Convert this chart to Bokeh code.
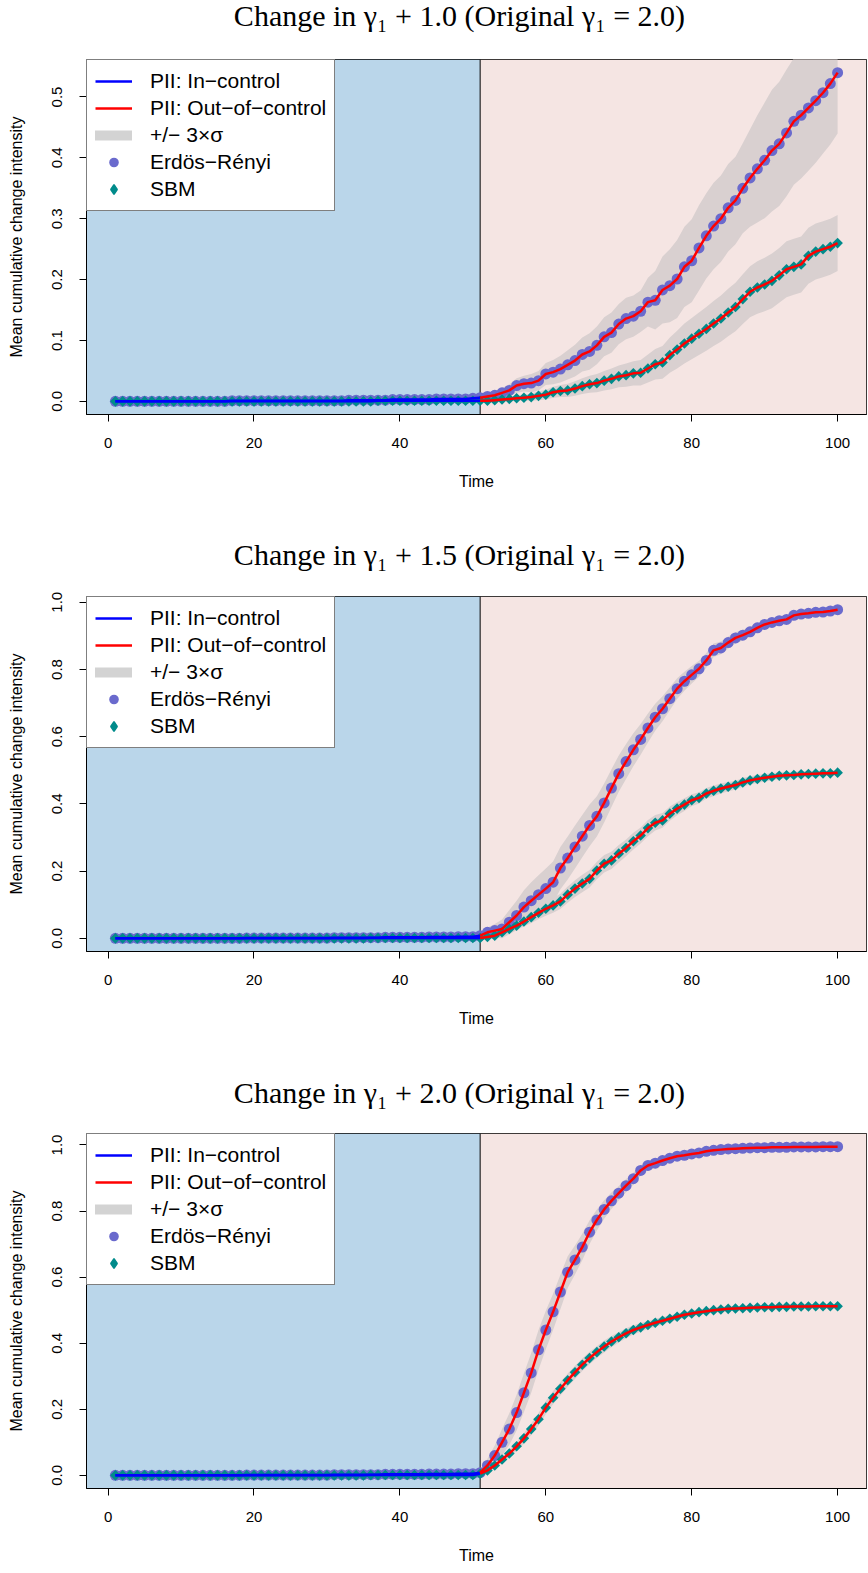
import numpy as np
from bokeh.plotting import figure
from bokeh.models import (Range1d, BoxAnnotation, Span, FixedTicker, Legend,
                          LegendItem, Label)
from bokeh.layouts import column
from bokeh.embed import file_html
from bokeh.resources import INLINE

# ---------------- data ----------------
time = list(range(1, 101))
change_point = 51

titles = [
    "Change in \u03b3\u2081 + 1.0 (Original \u03b3\u2081 = 2.0)",
    "Change in \u03b3\u2081 + 1.5 (Original \u03b3\u2081 = 2.0)",
    "Change in \u03b3\u2081 + 2.0 (Original \u03b3\u2081 = 2.0)",
]
y_ticks_1 = [0.0, 0.1, 0.2, 0.3, 0.4, 0.5]
y_ticks_2 = [0.0, 0.2, 0.4, 0.6, 0.8, 1.0]
y_ticks_3 = [0.0, 0.2, 0.4, 0.6, 0.8, 1.0]
x_ticks = [0, 20, 40, 60, 80, 100]

# Panel 1 : gamma1 + 1.0
er_1 = [0.000, 0.000, 0.000, 0.000, 0.000, 0.000, 0.000, 0.000, 0.000, 0.000,
        0.000, 0.000, 0.000, 0.000, 0.000, 0.000, 0.001, 0.001, 0.001, 0.001,
        0.001, 0.001, 0.001, 0.001, 0.001, 0.001, 0.001, 0.001, 0.001, 0.001,
        0.001, 0.001, 0.002, 0.002, 0.002, 0.002, 0.002, 0.002, 0.003, 0.003,
        0.003, 0.003, 0.003, 0.003, 0.004, 0.004, 0.004, 0.004, 0.004, 0.005,
        0.006, 0.008, 0.010, 0.014, 0.018, 0.026, 0.029, 0.030, 0.034, 0.045,
        0.048, 0.053, 0.060, 0.067, 0.077, 0.082, 0.092, 0.106, 0.113, 0.127,
        0.136, 0.140, 0.148, 0.163, 0.166, 0.183, 0.190, 0.201, 0.221, 0.231,
        0.252, 0.272, 0.288, 0.300, 0.318, 0.330, 0.350, 0.367, 0.382, 0.396,
        0.412, 0.423, 0.441, 0.460, 0.470, 0.482, 0.494, 0.507, 0.522, 0.540]
er_band_1 = [0.000, 0.000, 0.000, 0.000, 0.000, 0.001, 0.001, 0.001, 0.001, 0.001,
             0.001, 0.001, 0.001, 0.001, 0.001, 0.001, 0.001, 0.001, 0.001, 0.001,
             0.001, 0.001, 0.001, 0.001, 0.001, 0.002, 0.002, 0.002, 0.002, 0.002,
             0.002, 0.002, 0.002, 0.002, 0.003, 0.003, 0.003, 0.003, 0.003, 0.003,
             0.003, 0.003, 0.004, 0.004, 0.004, 0.004, 0.004, 0.004, 0.005, 0.005,
             0.005, 0.006, 0.007, 0.008, 0.010, 0.012, 0.013, 0.015, 0.016, 0.018,
             0.020, 0.022, 0.024, 0.026, 0.028, 0.030, 0.031, 0.032, 0.033, 0.033,
             0.034, 0.034, 0.034, 0.040, 0.048, 0.055, 0.060, 0.064, 0.066, 0.068,
             0.070, 0.070, 0.071, 0.071, 0.072, 0.072, 0.074, 0.080, 0.088, 0.095,
             0.100, 0.102, 0.104, 0.104, 0.104, 0.103, 0.102, 0.100, 0.100, 0.100]
sbm_1 = [0.000, 0.000, 0.000, 0.000, 0.000, 0.000, 0.000, 0.000, 0.000, 0.000,
         0.000, 0.000, 0.000, 0.000, 0.000, 0.000, 0.000, 0.000, 0.000, 0.000,
         0.000, 0.000, 0.000, 0.000, 0.000, 0.000, 0.000, 0.000, 0.000, 0.000,
         0.000, 0.000, 0.000, 0.000, 0.000, 0.000, 0.001, 0.001, 0.001, 0.001,
         0.001, 0.001, 0.001, 0.001, 0.001, 0.001, 0.001, 0.001, 0.001, 0.001,
         0.001, 0.001, 0.002, 0.003, 0.004, 0.005, 0.006, 0.007, 0.009, 0.011,
         0.015, 0.017, 0.018, 0.021, 0.025, 0.028, 0.030, 0.034, 0.037, 0.041,
         0.043, 0.046, 0.047, 0.054, 0.061, 0.064, 0.076, 0.085, 0.095, 0.103,
         0.111, 0.119, 0.128, 0.136, 0.146, 0.155, 0.168, 0.180, 0.187, 0.192,
         0.198, 0.207, 0.217, 0.221, 0.225, 0.239, 0.246, 0.250, 0.254, 0.260]
sbm_band_1 = [0.000, 0.000, 0.000, 0.000, 0.000, 0.000, 0.000, 0.000, 0.000, 0.000,
              0.000, 0.000, 0.000, 0.000, 0.000, 0.000, 0.000, 0.000, 0.000, 0.000,
              0.001, 0.001, 0.001, 0.001, 0.001, 0.001, 0.001, 0.001, 0.001, 0.001,
              0.001, 0.001, 0.001, 0.001, 0.001, 0.001, 0.001, 0.001, 0.001, 0.001,
              0.001, 0.001, 0.001, 0.001, 0.002, 0.002, 0.002, 0.002, 0.002, 0.002,
              0.002, 0.002, 0.003, 0.003, 0.004, 0.004, 0.005, 0.006, 0.007, 0.008,
              0.009, 0.010, 0.011, 0.012, 0.013, 0.014, 0.015, 0.016, 0.017, 0.018,
              0.019, 0.020, 0.021, 0.023, 0.025, 0.027, 0.029, 0.031, 0.033, 0.034,
              0.035, 0.036, 0.037, 0.038, 0.039, 0.040, 0.041, 0.042, 0.043, 0.044,
              0.045, 0.045, 0.046, 0.046, 0.046, 0.046, 0.046, 0.046, 0.046, 0.046]

# Panel 2 : gamma1 + 1.5
er_2 = [0.000, 0.000, 0.000, 0.000, 0.000, 0.000, 0.000, 0.000, 0.000, 0.000,
        0.000, 0.000, 0.000, 0.000, 0.000, 0.000, 0.000, 0.000, 0.001, 0.001,
        0.001, 0.001, 0.001, 0.001, 0.001, 0.001, 0.001, 0.001, 0.001, 0.001,
        0.002, 0.002, 0.002, 0.002, 0.002, 0.002, 0.002, 0.003, 0.003, 0.003,
        0.003, 0.003, 0.003, 0.004, 0.004, 0.004, 0.004, 0.005, 0.005, 0.005,
        0.008, 0.018, 0.023, 0.028, 0.048, 0.068, 0.093, 0.112, 0.130, 0.148,
        0.167, 0.209, 0.239, 0.272, 0.304, 0.336, 0.363, 0.403, 0.447, 0.490,
        0.526, 0.561, 0.592, 0.626, 0.658, 0.683, 0.713, 0.743, 0.765, 0.784,
        0.802, 0.827, 0.857, 0.864, 0.880, 0.894, 0.902, 0.912, 0.924, 0.934,
        0.940, 0.945, 0.949, 0.961, 0.965, 0.967, 0.970, 0.971, 0.974, 0.978]
er_band_2 = [0.000, 0.000, 0.000, 0.000, 0.000, 0.001, 0.001, 0.001, 0.001, 0.001,
             0.001, 0.001, 0.001, 0.001, 0.001, 0.001, 0.001, 0.001, 0.001, 0.001,
             0.001, 0.001, 0.002, 0.002, 0.002, 0.002, 0.002, 0.002, 0.002, 0.002,
             0.002, 0.002, 0.002, 0.003, 0.003, 0.003, 0.003, 0.003, 0.003, 0.003,
             0.004, 0.004, 0.004, 0.004, 0.004, 0.004, 0.005, 0.005, 0.005, 0.005,
             0.008, 0.014, 0.020, 0.028, 0.036, 0.044, 0.050, 0.055, 0.058, 0.060,
             0.062, 0.063, 0.064, 0.064, 0.063, 0.062, 0.060, 0.058, 0.056, 0.054,
             0.052, 0.049, 0.046, 0.043, 0.040, 0.037, 0.034, 0.031, 0.028, 0.026,
             0.024, 0.022, 0.020, 0.019, 0.018, 0.017, 0.016, 0.015, 0.014, 0.013,
             0.012, 0.012, 0.011, 0.011, 0.010, 0.010, 0.010, 0.010, 0.009, 0.009]
sbm_2 = [0.000, 0.000, 0.000, 0.000, 0.000, 0.000, 0.000, 0.000, 0.000, 0.000,
         0.000, 0.000, 0.000, 0.000, 0.000, 0.000, 0.000, 0.000, 0.000, 0.000,
         0.000, 0.000, 0.000, 0.000, 0.000, 0.000, 0.000, 0.000, 0.000, 0.000,
         0.000, 0.000, 0.000, 0.000, 0.000, 0.001, 0.001, 0.001, 0.001, 0.001,
         0.001, 0.001, 0.001, 0.001, 0.001, 0.001, 0.001, 0.001, 0.001, 0.001,
         0.001, 0.004, 0.008, 0.018, 0.028, 0.038, 0.050, 0.063, 0.076, 0.088,
         0.098, 0.110, 0.130, 0.148, 0.163, 0.177, 0.202, 0.222, 0.232, 0.252,
         0.269, 0.289, 0.306, 0.328, 0.344, 0.351, 0.371, 0.386, 0.398, 0.411,
         0.418, 0.431, 0.439, 0.446, 0.451, 0.456, 0.464, 0.470, 0.474, 0.478,
         0.481, 0.484, 0.485, 0.486, 0.488, 0.489, 0.490, 0.491, 0.491, 0.493]
sbm_band_2 = [0.000, 0.000, 0.000, 0.000, 0.000, 0.000, 0.000, 0.000, 0.000, 0.000,
              0.000, 0.000, 0.000, 0.000, 0.000, 0.000, 0.000, 0.000, 0.000, 0.000,
              0.001, 0.001, 0.001, 0.001, 0.001, 0.001, 0.001, 0.001, 0.001, 0.001,
              0.001, 0.001, 0.001, 0.001, 0.001, 0.001, 0.001, 0.001, 0.001, 0.001,
              0.001, 0.001, 0.001, 0.001, 0.002, 0.002, 0.002, 0.002, 0.002, 0.002,
              0.003, 0.005, 0.007, 0.009, 0.011, 0.013, 0.015, 0.017, 0.019, 0.021,
              0.022, 0.023, 0.024, 0.025, 0.026, 0.026, 0.026, 0.026, 0.026, 0.026,
              0.025, 0.025, 0.024, 0.024, 0.023, 0.022, 0.021, 0.020, 0.019, 0.018,
              0.017, 0.016, 0.016, 0.015, 0.014, 0.013, 0.013, 0.012, 0.012, 0.011,
              0.011, 0.010, 0.010, 0.010, 0.009, 0.009, 0.009, 0.008, 0.008, 0.008]

# Panel 3 : gamma1 + 2.0
er_3 = [0.000, 0.000, 0.000, 0.000, 0.000, 0.000, 0.000, 0.000, 0.000, 0.000,
        0.000, 0.000, 0.000, 0.000, 0.000, 0.000, 0.000, 0.000, 0.001, 0.001,
        0.001, 0.001, 0.001, 0.001, 0.001, 0.001, 0.001, 0.001, 0.001, 0.001,
        0.002, 0.002, 0.002, 0.002, 0.002, 0.002, 0.002, 0.003, 0.003, 0.003,
        0.003, 0.003, 0.003, 0.004, 0.004, 0.004, 0.004, 0.005, 0.005, 0.005,
        0.008, 0.030, 0.060, 0.100, 0.140, 0.190, 0.250, 0.310, 0.380, 0.440,
        0.495, 0.555, 0.615, 0.652, 0.691, 0.736, 0.773, 0.805, 0.831, 0.854,
        0.877, 0.898, 0.923, 0.938, 0.945, 0.953, 0.960, 0.966, 0.969, 0.973,
        0.976, 0.981, 0.984, 0.986, 0.988, 0.989, 0.990, 0.991, 0.992, 0.992,
        0.993, 0.993, 0.993, 0.994, 0.994, 0.994, 0.994, 0.995, 0.995, 0.995]
er_band_3 = [0.000, 0.000, 0.000, 0.000, 0.000, 0.001, 0.001, 0.001, 0.001, 0.001,
             0.001, 0.001, 0.001, 0.001, 0.001, 0.001, 0.001, 0.001, 0.001, 0.001,
             0.001, 0.001, 0.002, 0.002, 0.002, 0.002, 0.002, 0.002, 0.002, 0.002,
             0.002, 0.002, 0.002, 0.003, 0.003, 0.003, 0.003, 0.003, 0.003, 0.003,
             0.004, 0.004, 0.004, 0.004, 0.004, 0.004, 0.005, 0.005, 0.005, 0.005,
             0.010, 0.020, 0.030, 0.040, 0.048, 0.054, 0.058, 0.060, 0.060, 0.058,
             0.055, 0.052, 0.048, 0.044, 0.040, 0.036, 0.032, 0.028, 0.025, 0.022,
             0.020, 0.018, 0.016, 0.015, 0.014, 0.013, 0.012, 0.011, 0.010, 0.009,
             0.008, 0.008, 0.008, 0.008, 0.007, 0.007, 0.007, 0.007, 0.007, 0.007,
             0.006, 0.006, 0.006, 0.006, 0.006, 0.006, 0.006, 0.006, 0.006, 0.006]
sbm_3 = [0.000, 0.000, 0.000, 0.000, 0.000, 0.000, 0.000, 0.000, 0.000, 0.000,
         0.000, 0.000, 0.000, 0.000, 0.000, 0.000, 0.000, 0.000, 0.000, 0.000,
         0.000, 0.000, 0.000, 0.000, 0.000, 0.000, 0.000, 0.000, 0.000, 0.000,
         0.000, 0.000, 0.000, 0.000, 0.000, 0.001, 0.001, 0.001, 0.001, 0.001,
         0.001, 0.001, 0.001, 0.001, 0.001, 0.001, 0.001, 0.001, 0.001, 0.001,
         0.005, 0.015, 0.030, 0.048, 0.066, 0.088, 0.112, 0.140, 0.170, 0.205,
         0.235, 0.262, 0.288, 0.312, 0.335, 0.355, 0.373, 0.390, 0.405, 0.418,
         0.430, 0.440, 0.448, 0.455, 0.462, 0.468, 0.474, 0.480, 0.486, 0.490,
         0.494, 0.497, 0.500, 0.502, 0.504, 0.505, 0.506, 0.507, 0.508, 0.509,
         0.509, 0.510, 0.510, 0.511, 0.511, 0.511, 0.512, 0.512, 0.512, 0.512]
sbm_band_3 = [0.000, 0.000, 0.000, 0.000, 0.000, 0.000, 0.000, 0.000, 0.000, 0.000,
              0.000, 0.000, 0.000, 0.000, 0.000, 0.000, 0.000, 0.000, 0.000, 0.000,
              0.001, 0.001, 0.001, 0.001, 0.001, 0.001, 0.001, 0.001, 0.001, 0.001,
              0.001, 0.001, 0.001, 0.001, 0.001, 0.001, 0.001, 0.001, 0.001, 0.001,
              0.001, 0.001, 0.001, 0.001, 0.002, 0.002, 0.002, 0.002, 0.002, 0.002,
              0.004, 0.006, 0.008, 0.010, 0.012, 0.014, 0.016, 0.018, 0.019, 0.020,
              0.020, 0.020, 0.020, 0.020, 0.019, 0.019, 0.018, 0.018, 0.017, 0.016,
              0.015, 0.014, 0.013, 0.012, 0.012, 0.011, 0.010, 0.010, 0.009, 0.009,
              0.008, 0.008, 0.008, 0.008, 0.007, 0.007, 0.007, 0.007, 0.007, 0.007,
              0.006, 0.006, 0.006, 0.006, 0.006, 0.006, 0.006, 0.006, 0.006, 0.006]

# ---------------- style ----------------
SANS = "Liberation Sans"
SERIF = "Liberation Serif"
IC_BG = "#BAD6EA"
OC_BG = "#F5E5E3"
BAND = "#D9D0D0"
ER_COL = "#6A6ACD"
SBM_COL = "#008B8B"
PAGE_W = 868
TITLE_H = 40


def make_title(text, ypos):
    # a thin strip holding the panel title as real SVG text
    t = figure(width=PAGE_W, height=TITLE_H, output_backend="svg", toolbar_location=None,
               x_range=Range1d(0, PAGE_W), y_range=Range1d(0, TITLE_H),
               x_axis_location=None, y_axis_location=None,
               min_border_left=0, min_border_right=0, min_border_top=0,
               min_border_bottom=0)
    t.outline_line_color = None
    t.xgrid.visible = False
    t.ygrid.visible = False
    t.background_fill_color = "white"
    t.border_fill_color = "white"
    t.add_layout(Label(x=164, y=ypos, text=text, text_font=SERIF,
                       text_font_size="30px", text_color="black",
                       text_align="left", text_baseline="middle"))
    return t


def make_panel(er, er_band, sbm, sbm_band, yticks, height, border_bottom):
    ymax = max(er)
    pad_y = 0.04 * ymax
    pad_x = 0.04 * (time[-1] - time[0])
    p = figure(width=PAGE_W, height=height, output_backend="svg", toolbar_location=None,
               x_range=Range1d(time[0] - pad_x, time[-1] + pad_x),
               y_range=Range1d(-pad_y, ymax + pad_y),
               min_border_left=86, min_border_right=2, min_border_top=59 - TITLE_H,
               min_border_bottom=border_bottom)
    p.background_fill_color = "white"
    p.border_fill_color = "white"
    p.outline_line_color = "black"
    p.outline_line_width = 1
    p.xgrid.visible = False
    p.ygrid.visible = False

    p.add_layout(BoxAnnotation(right=change_point, fill_color=IC_BG, fill_alpha=1,
                               line_alpha=0, level="underlay"))
    p.add_layout(BoxAnnotation(left=change_point, fill_color=OC_BG, fill_alpha=1,
                               line_alpha=0, level="underlay"))
    p.add_layout(Span(location=change_point, dimension="height", line_color="black",
                      line_width=1, level="underlay"))

    er_a = np.array(er)
    sbm_a = np.array(sbm)
    er_b = np.array(er_band)
    sbm_b = np.array(sbm_band)
    p.varea(x=time, y1=er_a - er_b, y2=er_a + er_b, fill_color=BAND, fill_alpha=1)
    p.varea(x=time, y1=sbm_a - sbm_b, y2=sbm_a + sbm_b, fill_color=BAND, fill_alpha=1)

    er_pts = p.scatter(time, er, marker="circle", size=11, fill_color=ER_COL,
                       line_color=None)
    p.scatter(time, sbm, marker="square", angle=np.pi / 4, size=7.5,
              fill_color=SBM_COL, line_color=None)

    k = change_point
    ic = p.line(time[:k], er[:k], line_color="#0000FF", line_width=2.5)
    p.line(time[:k], sbm[:k], line_color="#0000FF", line_width=2.5)
    oc = p.line(time[k - 1:], er[k - 1:], line_color="#FF0000", line_width=2.5)
    p.line(time[k - 1:], sbm[k - 1:], line_color="#FF0000", line_width=2.5)

    # legend-only renderers (no visible data)
    band_leg = p.line(x=[np.nan], y=[np.nan], line_color="#D3D3D3", line_width=10,
                      line_cap="round")
    sbm_leg = p.scatter(x=[np.nan], y=[np.nan], marker="diamond", fill_color=SBM_COL,
                        line_color=SBM_COL, line_width=1.5)

    legend = Legend(items=[
        LegendItem(label="PII: In\u2212control", renderers=[ic]),
        LegendItem(label="PII: Out\u2212of\u2212control", renderers=[oc]),
        LegendItem(label="+/\u2212 3\u00d7\u03c3", renderers=[band_leg]),
        LegendItem(label="Erd\u00f6s\u2212R\u00e9nyi", renderers=[er_pts]),
        LegendItem(label="SBM", renderers=[sbm_leg]),
    ], location="top_left", margin=0, padding=8, spacing=1,
        glyph_width=37, glyph_height=24, label_height=26, label_standoff=18,
        label_text_font=SANS, label_text_font_size="21px", label_text_color="black",
        border_line_color="black", border_line_width=1,
        background_fill_color="white", background_fill_alpha=1)
    p.add_layout(legend)

    for ax in (p.xaxis[0], p.yaxis[0]):
        ax.axis_line_color = "black"
        ax.major_tick_line_color = "black"
        ax.major_tick_out = 7
        ax.major_tick_in = 0
        ax.minor_tick_line_color = None
        ax.major_label_text_font = SANS
        ax.major_label_text_font_size = "15px"
        ax.major_label_text_color = "black"
        ax.axis_label_text_font = SANS
        ax.axis_label_text_font_size = "16px"
        ax.axis_label_text_font_style = "normal"
        ax.axis_label_text_color = "black"

    p.xaxis[0].ticker = FixedTicker(ticks=x_ticks)
    p.xaxis[0].axis_label = "Time"
    p.xaxis[0].major_label_standoff = 16
    p.xaxis[0].axis_label_standoff = 22

    p.yaxis[0].ticker = FixedTicker(ticks=yticks)
    p.yaxis[0].major_label_overrides = {t: f"{t:.1f}" for t in yticks}
    p.yaxis[0].major_label_orientation = "vertical"
    p.yaxis[0].axis_label = "Mean cumulative change intensity"
    p.yaxis[0].major_label_standoff = 17
    p.yaxis[0].axis_label_standoff = 25
    return p


t1 = make_title(titles[0], TITLE_H - 15)
p1 = make_panel(er_1, er_band_1, sbm_1, sbm_band_1, y_ticks_1, 537 - TITLE_H, 123)
t2 = make_title(titles[1], TITLE_H - 17)
p2 = make_panel(er_2, er_band_2, sbm_2, sbm_band_2, y_ticks_2, 537 - TITLE_H, 123)
t3 = make_title(titles[2], TITLE_H - 18)
p3 = make_panel(er_3, er_band_3, sbm_3, sbm_band_3, y_ticks_3, 499 - TITLE_H, 85)

layout = column(t1, p1, t2, p2, t3, p3, spacing=0)
open("out.html", "w").write(file_html(layout, INLINE))
